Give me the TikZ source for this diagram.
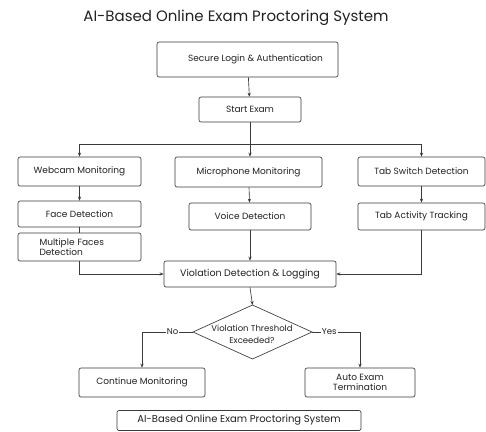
\documentclass[tikz,border=0pt]{standalone}
\usepackage{fontspec}
\setmainfont{Poppins}
\usetikzlibrary{shapes.geometric,arrows.meta}
\definecolor{ln}{HTML}{3A3A3A}
\definecolor{tx}{HTML}{222222}
\tikzset{
  box/.style={draw=ln, line width=0.65pt, rounded corners=2pt, fill=white, text=tx,
    font=\fontsize{9}{10.5}\selectfont, inner sep=1pt, align=center},
  arr/.style={draw=ln, line width=0.65pt, -{Stealth[length=4pt,width=3.2pt]}},
  ln/.style={draw=ln, line width=0.65pt},
  lbl/.style={fill=white, text=tx, font=\fontsize{8.5}{10}\selectfont, inner sep=1pt}
}
\begin{document}
\begin{tikzpicture}[x=1pt,y=-1pt]
\useasboundingbox[fill=white] (0,0) rectangle (486,431);
\node[text=tx, font=\fontsize{15}{18}\selectfont] (title) at (236,18) {AI-Based Online Exam Proctoring System};

\node[box, minimum width=181, minimum height=35] (login) at (247.5,59.5) {\hspace*{16pt}Secure Login \& Authentication};
\node[box, minimum width=102, minimum height=25] (start) at (250,109.5) {Start Exam};

\node[box, minimum width=123, minimum height=29] (web) at (79.5,171.5) {Webcam Monitoring};
\node[box, minimum width=147, minimum height=30] (mic) at (248.5,172) {Microphone Monitoring};
\node[box, minimum width=127, minimum height=29] (tab) at (421.5,171.5) {Tab Switch Detection};

\node[box, minimum width=123, minimum height=26] (face) at (79.5,214) {Face Detection};
\node[box, minimum width=122, minimum height=27] (voice) at (250,216.5) {Voice Detection};
\node[box, minimum width=127, minimum height=27] (tabact) at (421.5,216.5) {Tab Activity Tracking};
\node[box, minimum width=123, minimum height=28, text width=80pt, align=left,
  font=\fontsize{9}{10}\selectfont] (multi) at (79.5,247) {Multiple Faces\\Detection};

\node[box, minimum width=172, minimum height=26, font=\fontsize{9.5}{11}\selectfont] (viol) at (250,274) {Violation Detection \& Logging};

% decision diamond
\coordinate (dc) at (252.5,332);
\coordinate (dn) at (252.5,305);
\coordinate (ds) at (252.5,359);
\coordinate (dw) at (193,332);
\coordinate (de) at (312,332);
\draw[ln, fill=white] (dn) -- (de) -- (ds) -- (dw) -- cycle;
\node[text=tx, font=\fontsize{8.5}{12}\selectfont, align=center, inner sep=0pt] (dia) at (252,334) {Violation Threshold\\Exceeded?};

\node[box, minimum width=126, minimum height=29] (cont) at (142,382.5) {Continue Monitoring};
\node[box, minimum width=110, minimum height=29, font=\fontsize{9}{10.5}\selectfont] (auto) at (360,382.5) {Auto Exam\\Termination};

\node[box, minimum width=244, minimum height=20, font=\fontsize{10}{12}\selectfont] (foot) at (239,420.5) {AI-Based Online Exam Proctoring System};

\coordinate (br) at (start.south |- 0,144);
\draw[arr] (login) -- (start);
\draw[ln] (start) -- (br);
\draw[arr] (br) -| (web.north);
\draw[arr] (br) -| (tab.north);
\draw[arr] (br) -- (br |- mic.north);

\draw[arr] (web) -- (face);
\draw[arr] (mic) -- (voice);
\draw[arr] (tab) -- (tabact);
\draw[ln] (face) -- (multi);

\draw[arr] (multi.south) |- (viol.west);
\draw[arr] (tabact.south) |- (viol.east);
\draw[arr] (voice) -- (viol);
\draw[arr] (viol.south) -- (dn);

\draw[arr] (dw) -| node[lbl, pos=0.2] {No} (cont.north);
\draw[arr] (de) -| node[lbl, pos=0.18] {Yes} (auto.north);
\end{tikzpicture}
\end{document}
